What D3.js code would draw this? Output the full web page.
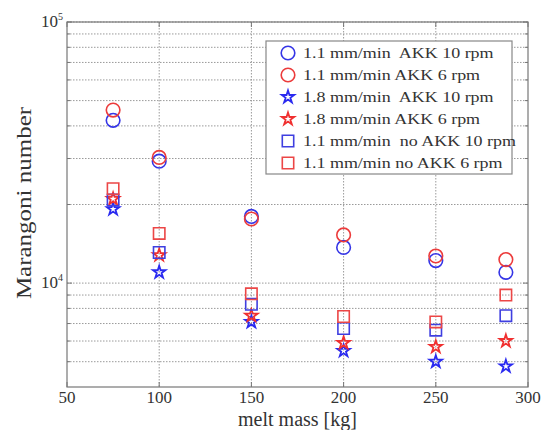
<html lang='en'>
<head>
<meta content='text/html; charset=utf-8' http-equiv='Content-Type'>
<title>Marangoni number</title>
<script src="https://d3js.org/d3.v7.min.js"></script>
<style>
  body { margin: 0; background: #fff; }
  svg { font-family: "Liberation Serif", "DejaVu Serif", serif; }
  .grid line { stroke: #9a9a9a; stroke-width: 1; stroke-dasharray: 1.5,1.5; }
  .frame { fill: none; stroke: #777; stroke-width: 1.2; }
  .tick-lbl { font-size: 17px; fill: #333; }
</style>
</head>
<body>
<script>
// data
var mass = [75, 100, 150, 200, 250, 288];
var circ10 = [42000, 29300, 18000, 13700, 12200, 11000];
var circ6 = [46000, 30300, 17600, 15300, 12700, 12300];
var star10 = [19200, 11000, 7100, 5500, 5000, 4800];
var star6 = [21000, 12800, 7500, 5900, 5700, 6000];
var sq10 = [20800, 13100, 8300, 6700, 6600, 7500];
var sq6 = [23000, 15500, 9100, 7450, 7100, 9000];
var xTicks = [50, 100, 150, 200, 250, 300];
var yMajor = [1e4, 1e5];

var series = [
  {name: "1.1 mm/min  AKK 10 rpm", vals: circ10, shape: "circle", color: "#3535e6"},
  {name: "1.1 mm/min AKK 6 rpm", vals: circ6, shape: "circle", color: "#ec3b3b"},
  {name: "1.8 mm/min  AKK 10 rpm", vals: star10, shape: "star", color: "#2a2af0"},
  {name: "1.8 mm/min AKK 6 rpm", vals: star6, shape: "star", color: "#f03030"},
  {name: "1.1 mm/min  no AKK 10 rpm", vals: sq10, shape: "square", color: "#3f3fe0"},
  {name: "1.1 mm/min no AKK 6 rpm", vals: sq6, shape: "square", color: "#ec4646"}
];

var W = 544, H = 430;
var pL = 67, pR = 528, pT = 22, pB = 387;

var x = d3.scaleLinear().domain([50, 300]).range([pL, pR]);
var y = d3.scaleLog().domain([4000, 1e5]).range([pB, pT]);

var svg = d3.select("body").append("svg").attr("width", W).attr("height", H);

// minor log grid values
var yGrid = [];
[1e3, 1e4].forEach(function(d) {
  for (var k = 1; k <= 9; k++) { var v = k * d; if (v > 4000 && v <= 1e5) yGrid.push(v); }
});
yGrid.push(1e5);

var grid = svg.append("g").attr("class", "grid");
grid.selectAll("line.h").data(yGrid).enter().append("line").attr("class", "h")
  .attr("x1", pL).attr("x2", pR)
  .attr("y1", function(d) { return y(d); }).attr("y2", function(d) { return y(d); });
grid.selectAll("line.v").data(xTicks.slice(1, -1)).enter().append("line").attr("class", "v")
  .attr("y1", pT).attr("y2", pB)
  .attr("x1", function(d) { return x(d); }).attr("x2", function(d) { return x(d); });

// inward tick marks
var tk = svg.append("g").attr("stroke", "#777").attr("stroke-width", 1);
xTicks.forEach(function(d) {
  tk.append("line").attr("x1", x(d)).attr("x2", x(d)).attr("y1", pB).attr("y2", pB - 5);
  tk.append("line").attr("x1", x(d)).attr("x2", x(d)).attr("y1", pT).attr("y2", pT + 5);
});
yGrid.forEach(function(d) {
  var len = yMajor.indexOf(d) >= 0 ? 5 : 3;
  tk.append("line").attr("x1", pL).attr("x2", pL + len).attr("y1", y(d)).attr("y2", y(d));
  tk.append("line").attr("x1", pR).attr("x2", pR - len).attr("y1", y(d)).attr("y2", y(d));
});

svg.append("rect").attr("class", "frame")
  .attr("x", pL).attr("y", pT).attr("width", pR - pL).attr("height", pB - pT);

// x tick labels
svg.selectAll("text.xt").data(xTicks).enter().append("text").attr("class", "tick-lbl")
  .attr("x", function(d) { return x(d); }).attr("y", 403)
  .attr("text-anchor", "middle").text(function(d) { return d; });

// y tick labels 10^n
yMajor.forEach(function(d) {
  var t = svg.append("text").attr("class", "tick-lbl").attr("text-anchor", "end")
    .attr("x", pL - 4).attr("y", y(d) + 5);
  t.append("tspan").text("10");
  t.append("tspan").attr("dy", -7).attr("font-size", 10).text(Math.round(Math.log10(d)));
});

svg.append("text").attr("x", (pL + pR) / 2).attr("y", 426)
  .attr("text-anchor", "middle").attr("font-size", 20).attr("fill", "#333").text("melt mass [kg]");
svg.append("text").attr("transform", "translate(31," + 203 + ") rotate(-90) scale(1.25,1)")
  .attr("text-anchor", "middle").attr("font-size", 20).attr("fill", "#333").text("Marangoni number");

var star = d3.symbol().type(d3.symbolStar).size(48);
var sqr = d3.symbol().type(d3.symbolSquare).size(130);

function drawMarker(g, shape, color) {
  if (shape === "circle") {
    g.append("circle").attr("r", 6.8).attr("fill", "none").attr("stroke", color).attr("stroke-width", 1.6);
  } else if (shape === "star") {
    g.append("path").attr("d", star()).attr("fill", "none").attr("stroke", color).attr("stroke-width", 1.8);
  } else {
    g.append("path").attr("d", sqr()).attr("fill", "none").attr("stroke", color).attr("stroke-width", 1.6);
  }
}

var plot = svg.append("g");
series.forEach(function(s) {
  s.vals.forEach(function(v, i) {
    var g = plot.append("g").attr("transform", "translate(" + x(mass[i]) + "," + y(v) + ")");
    drawMarker(g, s.shape, s.color);
  });
});

// legend
var lg = svg.append("g");
lg.append("rect").attr("x", 266).attr("y", 41).attr("width", 246).attr("height", 133)
  .attr("fill", "#fff").attr("stroke", "#888").attr("stroke-width", 1.2);
series.forEach(function(s, i) {
  var yy = 53 + i * 22;
  var g = lg.append("g").attr("transform", "translate(288," + yy + ")");
  drawMarker(g, s.shape, s.color);
  lg.append("text").attr("transform", "translate(303," + (yy + 5) + ") scale(1.16,1)")
    .attr("font-size", 15.5).attr("fill", "#333")
    .style("white-space", "pre").text(s.name);
});
</script>
</body>
</html>
